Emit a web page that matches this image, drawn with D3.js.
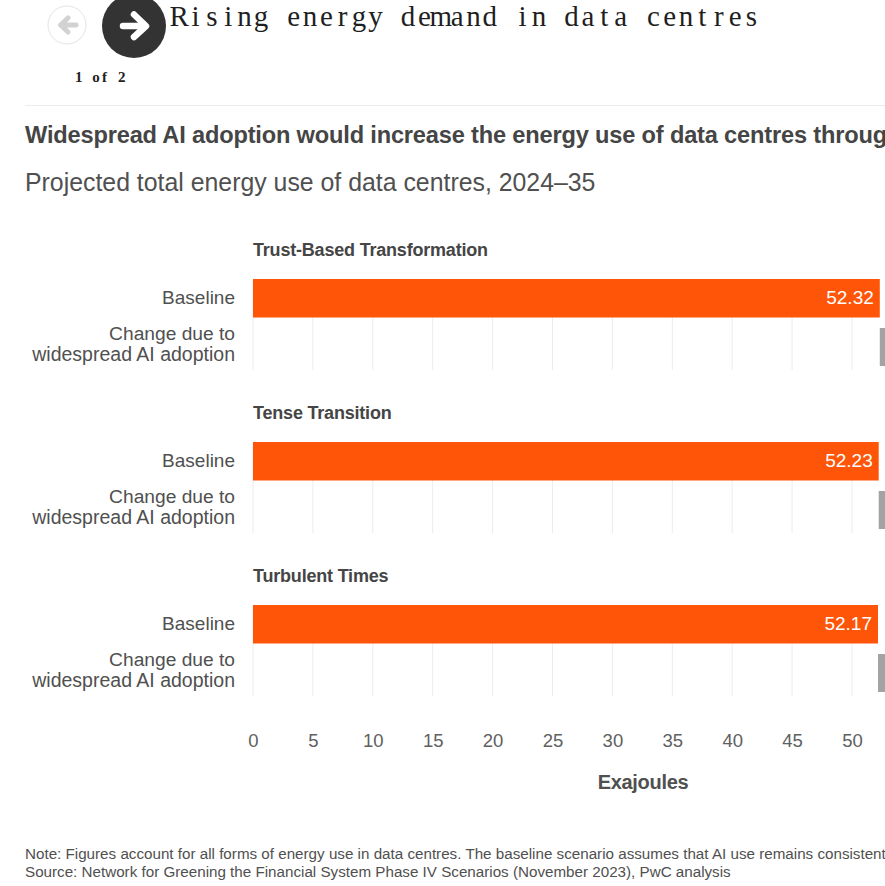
<!DOCTYPE html>
<html><head><meta charset="utf-8">
<script src="https://cdn.jsdelivr.net/npm/d3@7/dist/d3.min.js"></script>
<style>html,body{margin:0;padding:0;background:#fff;overflow:hidden}svg{display:block}</style>
</head><body><div id="c"></div>
<script>
const scenarios = ["Trust-Based Transformation","Tense Transition","Turbulent Times"];
const baseline = [52.32,52.23,52.17];
const change = [6,6,6]; // clipped in the reference: estimated
const ticks = [0,5,10,15,20,25,30,35,40,45,50];
const title = "Rising energy demand in data centres";
const pager = "1 of 2";
const headline = "Widespread AI adoption would increase the energy use of data centres throughout";
const subtitle = "Projected total energy use of data centres, 2024–35";
const noteText = "Note: Figures account for all forms of energy use in data centres. The baseline scenario assumes that AI use remains consistent";
const sourceText = "Source: Network for Greening the Financial System Phase IV Scenarios (November 2023), PwC analysis";
const axisTitle = "Exajoules";

const W=885,H=886,sans="'Liberation Sans',Arial,sans-serif",serif="'Liberation Serif',serif";
const svg=d3.select("#c").append("svg").attr("width",W).attr("height",H).attr("viewBox",`0 0 ${W} ${H}`);
const x=d3.scaleLinear().domain([0,50]).range([253,852]);
const groupY=d3.scalePoint().domain(scenarios).range([0,326]);
const txt=(g,s,px,py,size,fill,opt={})=>g.append("text").attr("x",px).attr("y",py).text(s)
  .attr("font-family",opt.family||sans).attr("font-size",size).attr("fill",fill)
  .attr("font-weight",opt.weight||"normal").attr("text-anchor",opt.anchor||"start")
  .style("letter-spacing",opt.ls||null);
// monospaced grid of serif glyphs
const gridText=(s,left,base,cell,size,fill,weight)=>svg.append("text")
  .attr("x",Array.from(s,(c,i)=>(left+(i+0.5)*cell).toFixed(2)).join(" "))
  .attr("y",base).attr("text-anchor","middle")
  .attr("font-family",serif).attr("font-size",size).attr("font-weight",weight).attr("fill",fill).text(s);

// pager controls
svg.append("circle").attr("cx",67).attr("cy",25).attr("r",19).attr("fill","#fff").attr("stroke","#e3e3e3").attr("stroke-width",1);
svg.append("path").attr("d","M76 25H62M68 18L60.5 25L68 32").attr("fill","none").attr("stroke","#d2d2d2").attr("stroke-width",5).attr("stroke-linecap","round").attr("stroke-linejoin","round");
svg.append("circle").attr("cx",134).attr("cy",26).attr("r",32).attr("fill","#333333");
svg.append("path").attr("d","M123 26H144M134 14.5L146 26L134 37").attr("fill","none").attr("stroke","#fff").attr("stroke-width",6.5).attr("stroke-linecap","round").attr("stroke-linejoin","round");
gridText(title,171,26,16.35,29,"#1f1f1f","normal");
gridText(pager,74.5,82,8.6,15,"#222","bold");
svg.append("line").attr("x1",25).attr("x2",W).attr("y1",105.5).attr("y2",105.5).attr("stroke","#ececec");

txt(svg,headline,25,143,23.6,"#454545",{weight:"bold",ls:"-0.17px"});
txt(svg,subtitle,25,191,24.85,"#505050");

// grid + groups
scenarios.forEach((s,i)=>{
  const g=svg.append("g").attr("transform",`translate(0,${groupY(s)})`);
  g.selectAll("line.grid").data(ticks).join("line").attr("class","grid")
    .attr("x1",d=>x(d)).attr("x2",d=>x(d)).attr("y1",280).attr("y2",370)
    .attr("stroke","#ececec").attr("stroke-width",1);
  txt(g,s,253,255.5,18,"#454545",{weight:"bold",ls:"-0.2px"});
  g.append("rect").attr("x",x(0)).attr("y",279).attr("width",x(baseline[i])-x(0)).attr("height",38.5).attr("fill","#fe5508");
  g.append("rect").attr("x",x(baseline[i])).attr("y",328).attr("width",x(baseline[i]+change[i])-x(baseline[i])).attr("height",38).attr("fill","#a3a3a3");
  txt(g,d3.format(".2f")(baseline[i]),x(baseline[i])-6,304,19,"#fff",{anchor:"end"});
  txt(g,"Baseline",235,304,19,"#505050",{anchor:"end"});
  txt(g,"Change due to",235,339.5,19.2,"#505050",{anchor:"end"});
  txt(g,"widespread AI adoption",235,361,19.5,"#505050",{anchor:"end"});
});

// axis
const ax=svg.append("g").attr("transform","translate(0,720)").call(d3.axisBottom(x).tickValues(ticks).tickSize(0).tickPadding(14));
ax.select(".domain").remove();
ax.selectAll("text").attr("font-family",sans).attr("font-size",18.5).attr("fill","#606060");
txt(svg,axisTitle,643,789,20,"#505050",{weight:"bold",anchor:"middle",ls:"-0.3px"});

txt(svg,noteText,25,859,15.2,"#505050");
txt(svg,sourceText,25,877,15.2,"#505050");
</script></body></html>
